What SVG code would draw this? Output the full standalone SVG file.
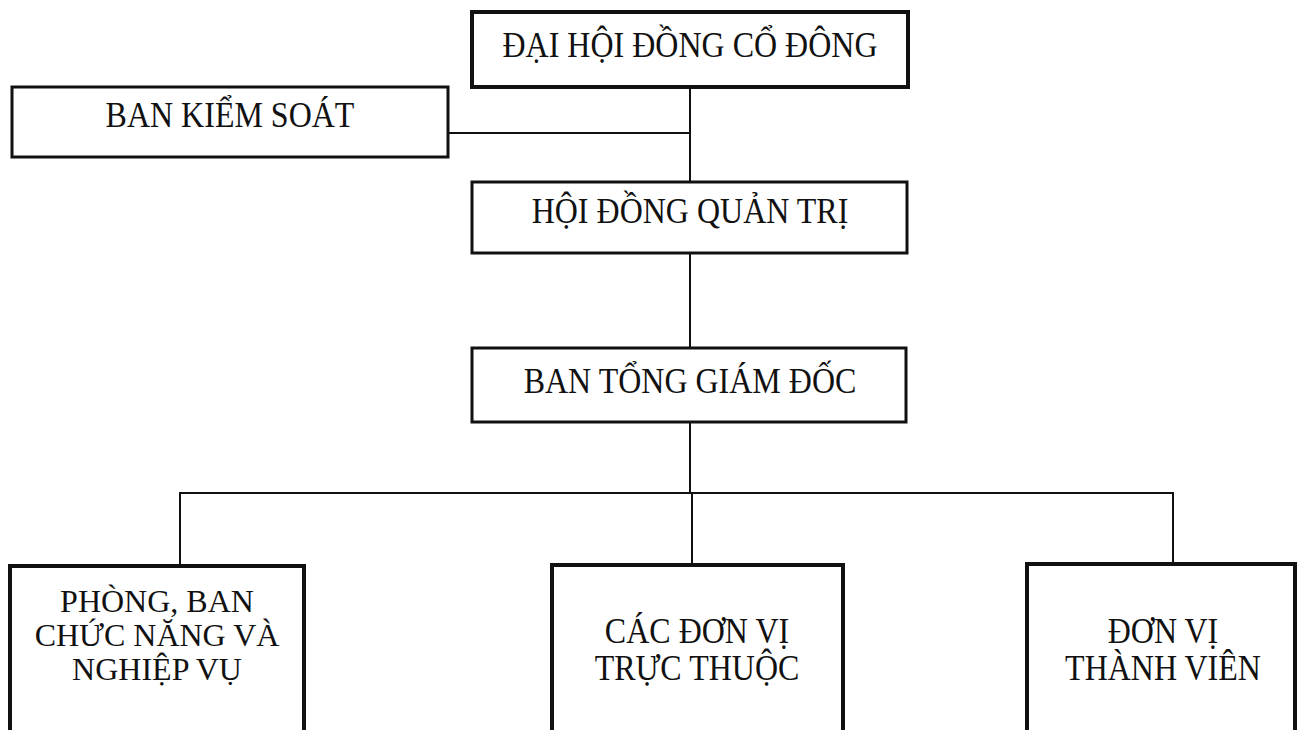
<svg xmlns="http://www.w3.org/2000/svg" width="1299" height="730" viewBox="0 0 1299 730">
<style>
.box{fill:#fff;stroke:#111;stroke-width:3}
.thick{stroke-width:4}
.lbl{font-family:"Liberation Serif","Times New Roman",serif;font-size:32px;fill:#111;text-anchor:middle}
.ln{stroke:#111;stroke-width:2;fill:none}
</style>
<rect width="1299" height="730" fill="#fff"/>
<g id="connectors">
<line class="ln" x1="690" y1="87" x2="690" y2="182"/>
<line class="ln" x1="448" y1="133" x2="690" y2="133"/>
<line class="ln" x1="690" y1="253" x2="690" y2="348"/>
<line class="ln" x1="690" y1="422" x2="690" y2="493"/>
<polyline class="ln" points="180,566 180,493 1173,493 1173,564"/>
<line class="ln" x1="692" y1="493" x2="692" y2="565"/>
</g>
<g id="dhdcd">
<rect class="box thick" x="472" y="12" width="436" height="75"/>
<text class="lbl" transform="translate(690 57) scale(1 1.12)">ĐẠI HỘI ĐỒNG CỔ ĐÔNG</text>
</g>
<g id="bks">
<rect class="box" x="12" y="87" width="436" height="70"/>
<text class="lbl" transform="translate(230 127) scale(1 1.12)">BAN KIỂM SOÁT</text>
</g>
<g id="hdqt">
<rect class="box" x="472" y="182" width="435" height="71"/>
<text class="lbl" transform="translate(690 223) scale(1 1.12)">HỘI ĐỒNG QUẢN TRỊ</text>
</g>
<g id="btgd">
<rect class="box" x="472" y="348" width="434" height="74"/>
<text class="lbl" transform="translate(690 393) scale(1 1.12)">BAN TỔNG GIÁM ĐỐC</text>
</g>
<g id="phong">
<rect class="box thick" x="10" y="566" width="294" height="180"/>
<text class="lbl" x="157" y="612">PHÒNG, BAN</text>
<text class="lbl" x="157" y="646">CHỨC NĂNG VÀ</text>
<text class="lbl" x="157" y="680">NGHIỆP VỤ</text>
</g>
<g id="tructhuoc">
<rect class="box thick" x="552" y="565" width="291" height="180"/>
<text class="lbl" transform="translate(697 643) scale(1 1.12)">CÁC ĐƠN VỊ</text>
<text class="lbl" transform="translate(697 680) scale(1 1.12)">TRỰC THUỘC</text>
</g>
<g id="thanhvien">
<rect class="box thick" x="1027" y="564" width="268" height="180"/>
<text class="lbl" transform="translate(1163 643) scale(1 1.12)">ĐƠN VỊ</text>
<text class="lbl" transform="translate(1163 680) scale(1 1.12)">THÀNH VIÊN</text>
</g>
</svg>
